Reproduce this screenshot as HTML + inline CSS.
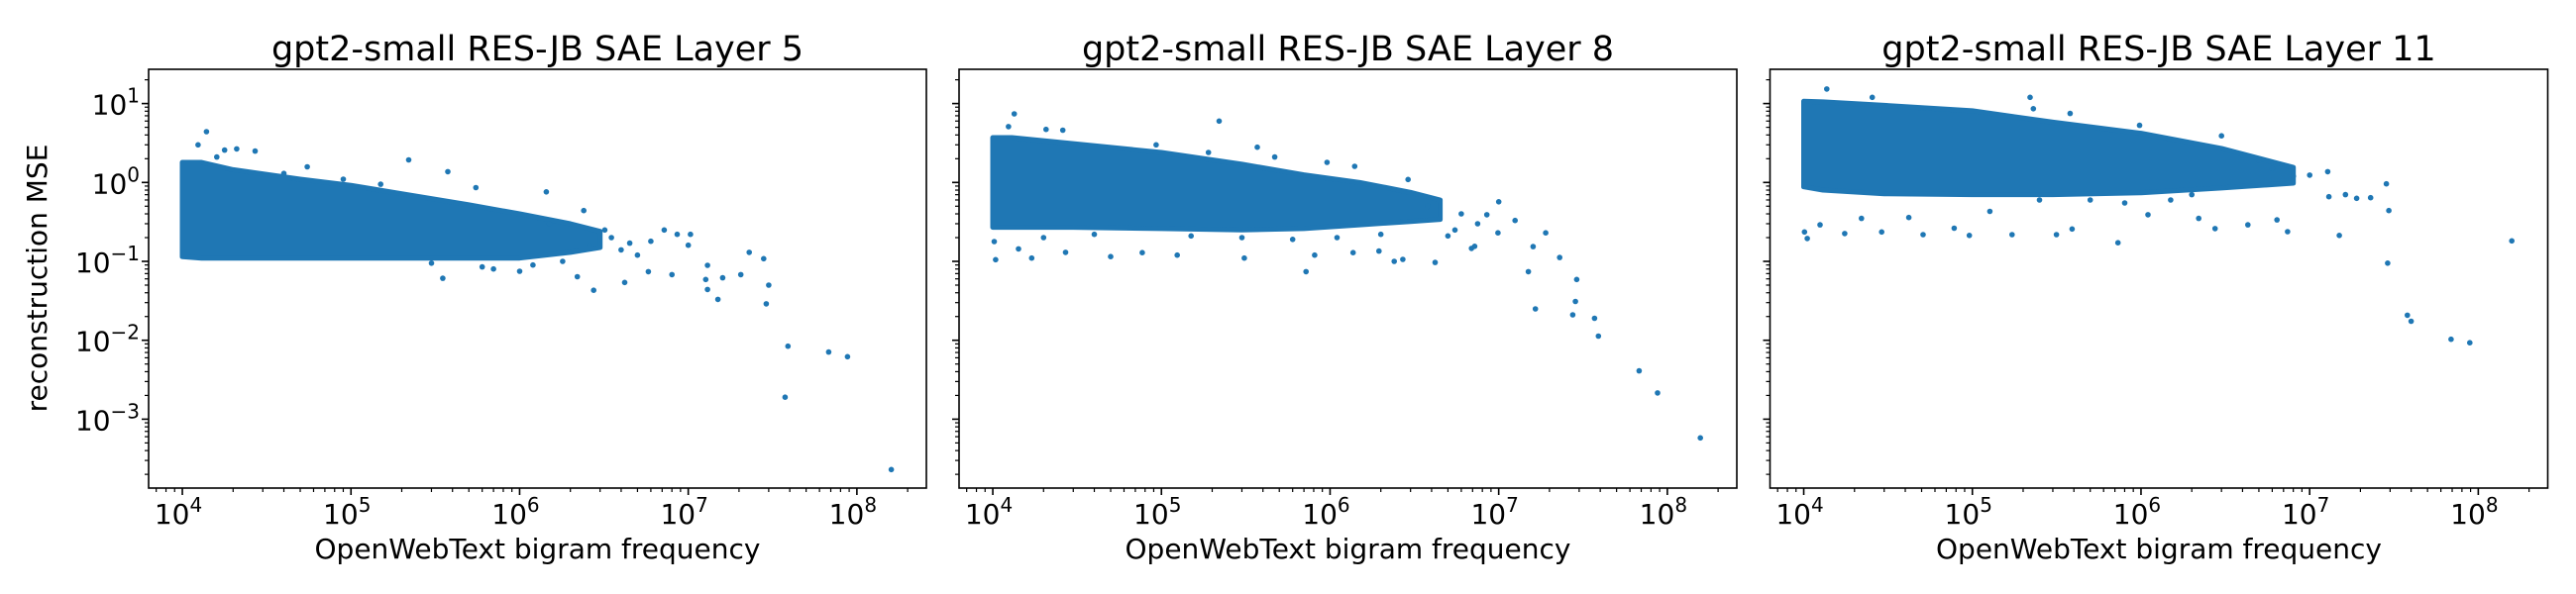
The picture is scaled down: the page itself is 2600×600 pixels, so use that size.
<!DOCTYPE html>
<html><head><meta charset="utf-8">
<style>
html,body{margin:0;padding:0;background:#fff;}
svg{display:block;}
text{font-family:"DejaVu Sans","Liberation Sans",sans-serif;fill:#000;}
</style></head>
<body>
<svg id="chart" width="2600" height="600" viewBox="0 0 2600 600" xmlns="http://www.w3.org/2000/svg"></svg>
<script>
// ---------- data ----------
const panelTitles = ["gpt2-small RES-JB SAE Layer 5","gpt2-small RES-JB SAE Layer 8","gpt2-small RES-JB SAE Layer 11"];
const xTickExps = [4,5,6,7,8];
const yTickExps = [-3,-2,-1,0,1];

// dense cloud envelopes (frequency, upper MSE, lower MSE)
const band1X = [1e4,1.3e4,2e4,5e4,1e5,2e5,5e5,1e6,2e6,3e6];
const band1Hi = [1.8,1.8,1.45,1.1,0.92,0.72,0.52,0.40,0.30,0.24];
const band1Lo = [0.115,0.11,0.11,0.11,0.11,0.11,0.11,0.11,0.13,0.15];
const band2X = [1e4,1.3e4,3e4,1e5,3e5,7e5,1.5e6,3e6,4.5e6];
const band2Hi = [3.7,3.7,3.1,2.4,1.7,1.25,1.0,0.75,0.6];
const band2Lo = [0.27,0.27,0.27,0.26,0.25,0.26,0.29,0.32,0.34];
const band3X = [1e4,1.3e4,3e4,1e5,3e5,1e6,3e6,8e6];
const band3Hi = [10.7,10.5,9.5,8.1,5.8,4.2,2.7,1.55];
const band3Lo = [0.88,0.8,0.72,0.7,0.7,0.74,0.85,0.98];

// individual points
const pts1X = [1.39e4,1.24e4,1.78e4,2.1e4,2.7e4,5.5e4,2.2e5,3.75e5,5.5e5,1.44e6,2.4e6,7.2e6,8.6e6,1.03e7,1.0e7,2.3e7,2.8e7,1.3e7,2.05e7,1.6e7,1.27e7,1.3e7,1.5e7,3.0e7,2.9e7,3.9e7,6.8e7,8.8e7,3.75e7,1.6e8,2.75e6,4.2e6,2.2e6,3.5e5,5.8e6,8e6,1.5e6,3.2e6,4.5e6,6e6,5e6,1e6,7e5,3.5e6,2.6e6,4e6,1.8e6,3e5,6e5,1.2e6,1.6e4,4e4,9e4,1.5e5];
const pts1Y = [4.4,3.0,2.57,2.66,2.5,1.58,1.93,1.37,0.86,0.76,0.44,0.25,0.22,0.22,0.16,0.13,0.108,0.089,0.068,0.062,0.059,0.044,0.033,0.05,0.029,0.0084,0.0071,0.0062,0.0019,0.00023,0.043,0.054,0.064,0.061,0.074,0.068,0.3,0.25,0.17,0.18,0.12,0.075,0.08,0.2,0.16,0.14,0.1,0.095,0.085,0.09,2.1,1.3,1.1,0.95];
const pts2X = [1.34e4,2.2e5,1.24e4,2.07e4,2.6e4,9.3e4,1.9e5,3.7e5,4.7e5,9.6e5,1.4e6,2.9e6,1.0e7,8.5e6,1.25e7,1.9e7,1.6e7,2.3e7,1.5e7,2.9e7,1.65e7,2.85e7,2.75e7,3.7e7,3.9e7,6.8e7,8.75e7,1.57e8,7.2e5,1.04e4,1.7e4,5e4,1.24e5,3.1e5,2.4e6,2.7e6,4.2e6,6.9e6,7.2e6,5e6,1.02e4,1.42e4,2.7e4,7.7e4,8.1e5,1.37e6,1.95e6,9.9e6,6e6,7.5e6,3.8e6,5.5e6,2e6,1.1e6,6e5,3e5,1.5e5,4e4,2e4];
const pts2Y = [7.4,6.0,5.1,4.7,4.6,3.0,2.4,2.8,2.1,1.8,1.6,1.09,0.57,0.39,0.33,0.23,0.154,0.112,0.074,0.059,0.025,0.031,0.021,0.019,0.0113,0.0041,0.00215,0.00058,0.074,0.105,0.11,0.115,0.12,0.11,0.1,0.106,0.097,0.146,0.155,0.21,0.178,0.144,0.13,0.129,0.12,0.129,0.135,0.23,0.4,0.3,0.5,0.25,0.22,0.2,0.19,0.2,0.21,0.22,0.2];
const pts3X = [1.37e4,2.2e5,2.55e4,2.3e5,3.8e5,9.8e5,3e6,1.28e7,1.0e7,2.85e7,2.95e7,1.63e7,1.9e7,2.3e7,1.3e7,1.5e7,1.58e8,7.3e5,2.9e7,3.8e7,4e7,6.9e7,8.9e7,1.05e4,1.01e4,1.25e4,1.75e4,2.2e4,2.9e4,4.2e4,5.1e4,7.8e4,9.6e4,1.27e5,1.72e5,3.15e5,3.9e5,2.2e6,2.75e6,4.3e6,6.4e6,7.4e6,1.1e6,5e6,6e6,8e6,4e6,2e6,1.5e6,8e5,5e5,2.5e5];
const pts3Y = [15.3,12.0,12.0,8.6,7.5,5.3,3.9,1.37,1.24,0.96,0.44,0.7,0.63,0.64,0.66,0.213,0.182,0.172,0.095,0.0208,0.0174,0.0103,0.0093,0.195,0.236,0.29,0.225,0.35,0.236,0.36,0.218,0.263,0.213,0.43,0.218,0.218,0.257,0.35,0.26,0.29,0.336,0.238,0.39,1.9,1.5,1.2,2.2,0.7,0.6,0.55,0.6,0.6];

const bandsX = [band1X, band2X, band3X];
const bandsHi = [band1Hi, band2Hi, band3Hi];
const bandsLo = [band1Lo, band2Lo, band3Lo];
const ptsX = [pts1X, pts2X, pts3X];
const ptsY = [pts1Y, pts2Y, pts3Y];

// ---------- layout ----------
const NS = "http://www.w3.org/2000/svg";
const svg = document.getElementById('chart');
const axLefts = [150, 968, 1786.5];
const axW = 785, axTop = 70, axBot = 493;
const xMin = 3.8, xMax = 8.412;
const yMin = -3.873, yMax = 1.434;
const color = "#1f77b4";

function mk(tag, attrs, parent){
  const e = document.createElementNS(NS, tag);
  for (const k in attrs) e.setAttribute(k, attrs[k]);
  (parent||svg).appendChild(e);
  return e;
}
function xScale(left, v){ return left + (Math.log10(v) - xMin) / (xMax - xMin) * axW; }
function yScale(v){ return axBot - (Math.log10(v) - yMin) / (yMax - yMin) * (axBot - axTop); }

for (let p = 0; p < 3; p++){
  const L = axLefts[p];
  const g = mk('g', {});
  
  

  const clipId = 'clip' + p;
  const cp = mk('clipPath', {id: clipId}, g);
  mk('rect', {x: L, y: axTop, width: axW, height: axBot - axTop}, cp);
  const plot = mk('g', {'clip-path': 'url(#' + clipId + ')'}, g);
  
  

  const bx = bandsX[p], hi = bandsHi[p], lo = bandsLo[p];
  let d = '';
  for (let i = 0; i < bx.length; i++) d += (i ? 'L' : 'M') + xScale(L, bx[i]).toFixed(1) + ',' + yScale(hi[i]).toFixed(1);
  for (let i = bx.length - 1; i >= 0; i--) d += 'L' + xScale(L, bx[i]).toFixed(1) + ',' + yScale(lo[i]).toFixed(1);
  d += 'Z';
  const band = mk('path', {d: d, fill: color, stroke: color, 'stroke-width': 5, 'stroke-linejoin': 'round'}, plot);
  
  

  const px = ptsX[p], py = ptsY[p];
  for (let i = 0; i < px.length; i++){
    const c = mk('circle', {cx: xScale(L, px[i]).toFixed(1), cy: yScale(py[i]).toFixed(1), r: 2.8, fill: color}, plot);
    
    
  }

  const fr = mk('rect', {x: L, y: axTop, width: axW, height: axBot - axTop, fill: 'none', stroke: '#000', 'stroke-width': 1.6}, g);
  
  

  for (let e = 3; e <= 8; e++){
    for (let m = 1; m <= 9; m++){
      const v = m * Math.pow(10, e);
      const lv = Math.log10(v);
      if (lv < xMin || lv > xMax) continue;
      const x = xScale(L, v);
      mk('line', {x1: x, x2: x, y1: axBot, y2: axBot + (m === 1 ? 7 : 4), stroke: '#000', 'stroke-width': m === 1 ? 1.6 : 1.2}, g);
    }
  }
  xTickExps.forEach(e => {
    const x = xScale(L, Math.pow(10, e));
    const t = mk('text', {x: x - 4, y: 529, 'font-size': 28, 'text-anchor': 'middle'}, g);
    
    
    t.appendChild(document.createTextNode('10'));
    const s = mk('tspan', {'font-size': 20, dy: -12}, t);
    s.textContent = e;
  });
  const xl = mk('text', {x: L + axW/2, y: 564, 'font-size': 28, 'text-anchor': 'middle'}, g);
  
  
  xl.textContent = 'OpenWebText bigram frequency';

  for (let e = -4; e <= 1; e++){
    for (let m = 1; m <= 9; m++){
      const v = m * Math.pow(10, e);
      const lv = Math.log10(v);
      if (lv < yMin || lv > yMax) continue;
      const y = yScale(v);
      mk('line', {x1: L, x2: L - (m === 1 ? 7 : 4), y1: y, y2: y, stroke: '#000', 'stroke-width': m === 1 ? 1.6 : 1.2}, g);
    }
  }
  if (p === 0){
    yTickExps.forEach(e => {
      const y = yScale(Math.pow(10, e));
      const t = mk('text', {x: 141, y: y + 11, 'font-size': 28, 'text-anchor': 'end'}, g);
      
      
      t.appendChild(document.createTextNode('10'));
      const s = mk('tspan', {'font-size': 20, dy: -12}, t);
      s.textContent = e < 0 ? '\u2212' + (-e) : e;
    });
    const yl = mk('text', {x: 0, y: 0, 'font-size': 28, 'text-anchor': 'middle', transform: 'translate(47,281) rotate(-90)'}, g);
    
    
    yl.textContent = 'reconstruction MSE';
  }

  const tt = mk('text', {x: L + axW/2, y: 61, 'font-size': 35, 'text-anchor': 'middle'}, g);
  
  
  tt.textContent = panelTitles[p];
}
</script>
</body></html>
